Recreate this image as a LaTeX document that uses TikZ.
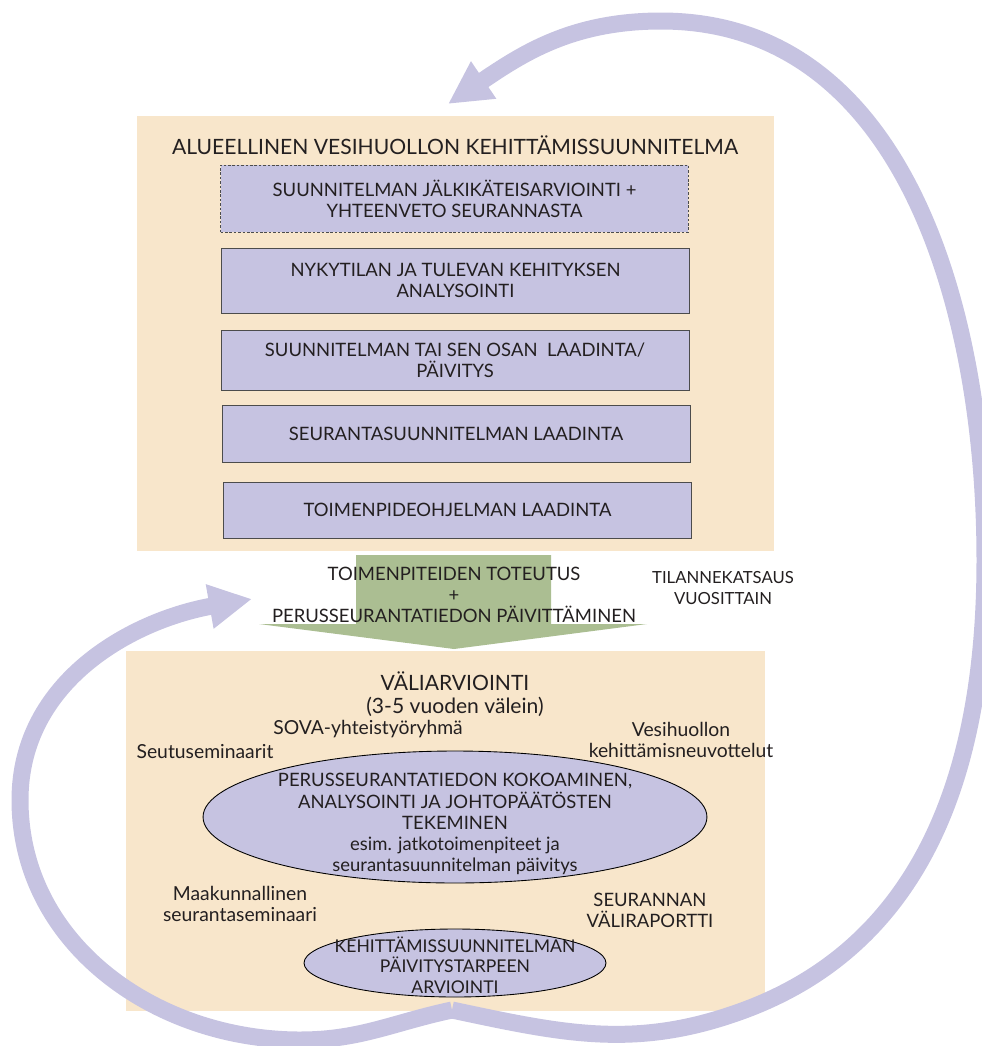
\documentclass[tikz,border=0pt]{standalone}
\usepackage{fontspec}
\setmainfont{Lato}
\usetikzlibrary{shapes.geometric,arrows.meta}

\definecolor{beige}{HTML}{F8E6CB}
\definecolor{lila}{HTML}{C6C3E1}
\definecolor{vihrea}{HTML}{ABBE92}
\definecolor{teksti}{HTML}{231F20}

\tikzset{
  panel/.style={fill=beige,inner sep=0pt},
  stepbox/.style={draw=black!70,line width=0.5pt,fill=lila,minimum width=9.36cm,
    align=center,text=teksti,font=\fontsize{10.5}{12}\selectfont},
  bubble/.style={ellipse,draw=black,line width=0.5pt,fill=lila,inner sep=0pt},
  txt/.style={align=center,text=teksti,inner sep=0pt,font=\fontsize{10.5}{12}\selectfont},
  lowtxt/.style={txt,font=\fontsize{11}{12.1}\selectfont},
  bigtxt/.style={txt,font=\fontsize{12}{13}\selectfont},
  kierto/.style={draw=lila,line width=0.34cm,-{Triangle[length=0.86cm,width=0.84cm]}}
}

\begin{document}
\begin{tikzpicture}[x=0.02cm,y=-0.02cm]
\useasboundingbox (0,0) rectangle (982,1046);
\node[panel,minimum width=12.74cm,minimum height=8.7cm] at (455.5,333.5) (suunnitelma) {};
\node[bigtxt] at (455,145) (otsikko) {ALUEELLINEN VESIHUOLLON KEHITTÄMISSUUNNITELMA};
\node[stepbox,dash pattern=on 1.5pt off 1pt,minimum height=1.34cm] at (454.5,198.5) (jalki)
  {SUUNNITELMAN JÄLKIKÄTEISARVIOINTI +\\YHTEENVETO SEURANNASTA};
\node[stepbox,minimum height=1.30cm] at (455.5,280.5) (nykytila)
  {NYKYTILAN JA TULEVAN KEHITYKSEN\\ANALYSOINTI};
\node[stepbox,minimum height=1.20cm] at (455,360) (laadinta)
  {SUUNNITELMAN TAI SEN OSAN\ \ LAADINTA/\\PÄIVITYS};
\node[stepbox,minimum height=1.14cm] at (456,433.5) (seuranta) {SEURANTASUUNNITELMAN LAADINTA};
\node[stepbox,minimum height=1.12cm] at (457.5,510) (ohjelma) {TOIMENPIDEOHJELMAN LAADINTA};

\fill[vihrea] (356,555) -- (551,555) -- (551,624) -- (647,624) -- (454,649)
  -- (259,624) -- (356,624) -- cycle;
\node[txt] at (454,595) (toteutus)
  {TOIMENPITEIDEN TOTEUTUS\\+\\PERUSSEURANTATIEDON PÄIVITTÄMINEN};
\node[txt,font=\fontsize{9.5}{12}\selectfont] at (723,588) (katsaus) {TILANNEKATSAUS\\VUOSITTAIN};

\node[panel,minimum width=12.78cm,minimum height=7.2cm] at (445.5,831) (valiarviointi) {};
\node[bigtxt] at (455,694) (valiotsikko) {VÄLIARVIOINTI\\(3-5 vuoden välein)};
\node[lowtxt] at (368,729) (sova) {SOVA-yhteistyöryhmä};
\node[lowtxt] at (205,752) (seutu) {Seutuseminaarit};
\node[lowtxt] at (681,740) (neuvottelut) {Vesihuollon\\kehittämisneuvottelut};
\node[bubble,minimum width=10.08cm,minimum height=2.64cm] at (455,817) (kokoaminen) {};
\node[txt] at (455,824) (kokoamisteksti)
  {PERUSSEURANTATIEDON KOKOAMINEN,\\ANALYSOINTI JA JOHTOPÄÄTÖSTEN\\TEKEMINEN\\
   esim. jatkotoimenpiteet ja\\seurantasuunnitelman päivitys};
\node[lowtxt] at (240,904) (maakunta) {Maakunnallinen\\seurantaseminaari};
\node[txt] at (650,910) (raportti) {SEURANNAN\\VÄLIRAPORTTI};
\node[bubble,minimum width=6.04cm,minimum height=1.36cm] at (455,963) (tarve) {};
\node[txt,font=\fontsize{10}{11.8}\selectfont] at (455,965) (tarveteksti)
  {KEHITTÄMISSUUNNITELMAN\\PÄIVITYSTARPEEN\\ARVIOINTI};

\coordinate (junc) at (452,1010);
\coordinate (tipR) at (448,104);
\coordinate (tipL) at (252,599);
\draw[kierto] (junc) to[out=-12,in=200] (742,1011) to[out=20,in=-90] (985,560)
  to[out=90,in=0] (661,21) to[out=180,in=34] (tipR);
\draw[kierto] (junc) to[out=192,in=0] (300,1040) to[out=180,in=-90] (20,800)
  to[out=90,in=190] (tipL);
\end{tikzpicture}
\end{document}
